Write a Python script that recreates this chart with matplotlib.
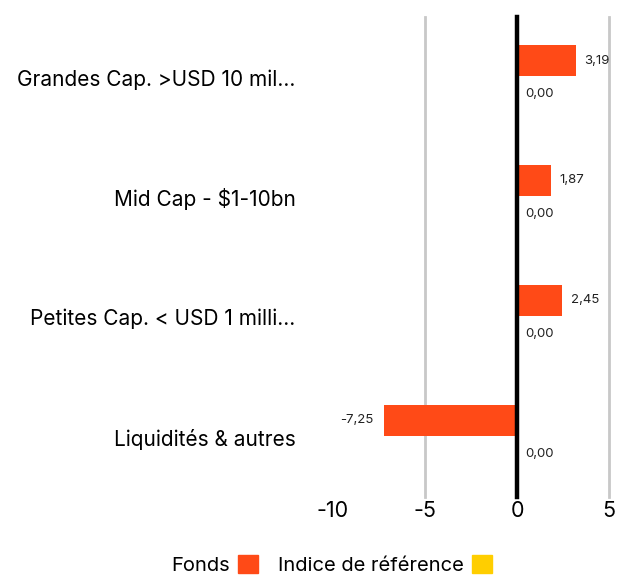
import matplotlib
matplotlib.use('Agg')
import matplotlib.pyplot as plt
import numpy as np
from matplotlib.patches import Patch

plt.rcParams['font.family'] = ['Inter', 'DejaVu Sans']

categories = ['Grandes Cap. >USD 10 mil...', 'Mid Cap - $1-10bn',
              'Petites Cap. < USD 1 milli...', 'Liquidités & autres']
fonds = [3.19, 1.87, 2.45, -7.25]
indice = [0.00, 0.00, 0.00, 0.00]
series_names = ['Fonds', 'Indice de référence']
xticks = [-10, -5, 0, 5]

col_fonds = '#ff4a17'
col_indice = '#ffce00'


def fmt(v):
    return '{:.2f}'.format(v).replace('.', ',')


fig = plt.figure(figsize=(6.26, 5.78), dpi=100)
ax = fig.add_axes([0.532, 0.140, 0.441, 0.830])

ind = np.arange(len(categories))
h = 0.26
ax.barh(ind - 0.14, fonds, height=h, color=col_fonds, zorder=2)
ax.barh(ind + 0.14, indice, height=h, color=col_indice, zorder=2)

for i in range(len(categories)):
    v = fonds[i]
    if v >= 0:
        ax.annotate(fmt(v), (v, ind[i] - 0.14), xytext=(6, 0),
                    textcoords='offset points', va='center', ha='left',
                    fontsize=9.5, color='#222222')
    else:
        ax.annotate(fmt(v), (v, ind[i] - 0.14), xytext=(-7, 0),
                    textcoords='offset points', va='center', ha='right',
                    fontsize=9.5, color='#222222')
    ax.annotate(fmt(indice[i]), (indice[i], ind[i] + 0.14), xytext=(6, 0),
                textcoords='offset points', va='center', ha='left',
                fontsize=9.5, color='#222222')

for x in [-5, 5]:
    ax.axvline(x, color='#c8c8c8', lw=2.0, zorder=1, clip_on=False)
ax.axvline(0, color='black', lw=3.2, zorder=3, clip_on=False)

ax.set_xlim(-10, 5)
ax.set_ylim(len(categories) - 0.5, -0.5)
ax.set_xticks(xticks)
ax.set_xticklabels([str(t) for t in xticks], fontsize=15.5)
ax.set_yticks(ind)
ax.set_yticklabels(categories, fontsize=15)
ax.tick_params(axis='both', length=0)
ax.tick_params(axis='y', pad=27)
ax.tick_params(axis='x', pad=3)
for s in ax.spines.values():
    s.set_visible(False)

handles = [Patch(color=col_fonds), Patch(color=col_indice)]
fig.legend(handles, series_names, loc='center', bbox_to_anchor=(0.53, 0.023),
           ncol=2, frameon=False, markerfirst=False, fontsize=14.5,
           handlelength=1.0, handleheight=1.0, handletextpad=0.4,
           columnspacing=1.0)

plt.savefig('out.png', dpi=100)
